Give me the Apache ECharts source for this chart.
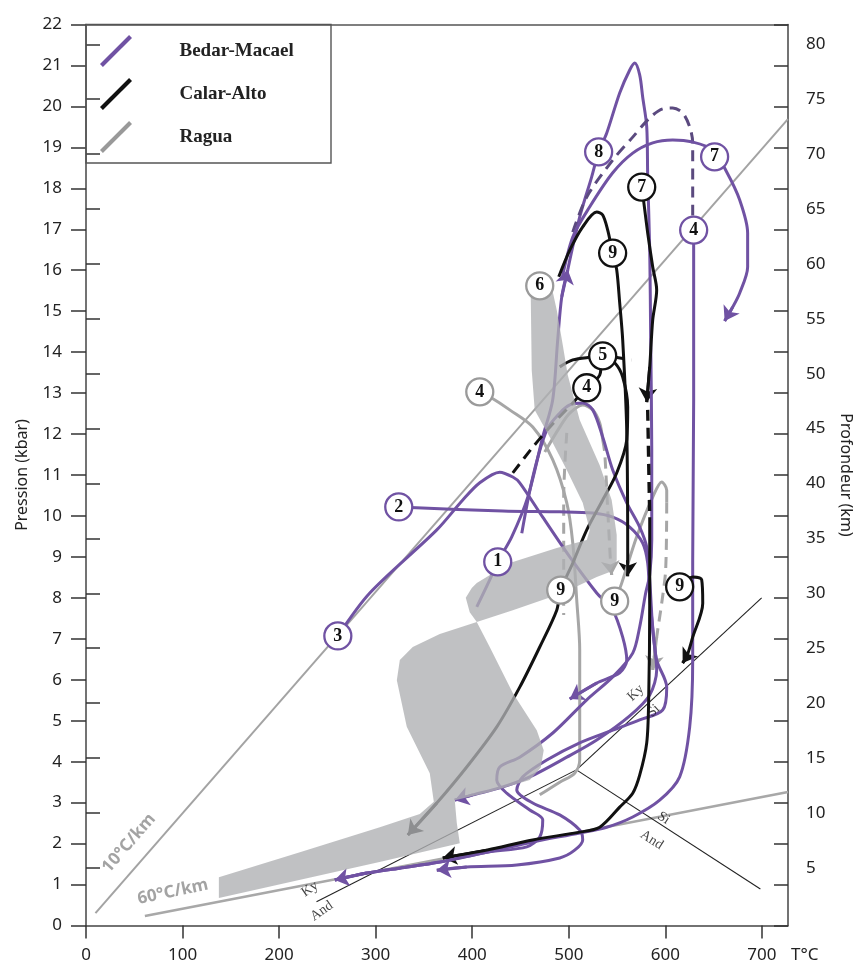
<!DOCTYPE html>
<html><head><meta charset="utf-8">
<script src="https://cdn.jsdelivr.net/npm/echarts@6/dist/echarts.min.js"></script>
<style>html,body{margin:0;padding:0;background:#fff}#c{width:856px;height:967px}</style>
</head><body><div id="c"></div>
<script>
// ---- ticks ----
const xTicks = [0,100,200,300,400,500,600,700];
const kmTicks = [5,10,15,20,25,30,35,40,45,50,55,60,65,70,75,80];
const seriesNames = ['Bedar-Macael','Calar-Alto','Ragua'];

// ---- reference lines [T(°C), P(kbar)] ----
const geo10 = [[9.8,0.30],[726.9,19.69]];
const geo60 = [[61.0,0.23],[727,3.26]];
const kyAnd = [[238.7,0.58],[507.9,3.80]];
const kySil = [[507.9,3.80],[699.7,8.00]];
const andSil = [[507.9,3.80],[698.4,0.89]];

// ---- Bedar-Macael paths ----
const B1 = [[404.7,7.78],[418.1,8.44],[426.4,8.88],[440.9,9.49],[457.5,10.46],[473.0,11.93],[483.3,12.83],[488.5,14.30],[492.7,15.35],[498.9,16.01]];
const B8 = [[498.9,16.01],[511.3,17.30],[523.7,18.28],[530.9,18.89],[539.3,19.35],[552.7,20.33],[563.1,20.89],[568.3,21.06],[573.4,20.77],[576.5,20.23],[580.7,19.50],[581.7,18.28],[583.8,16.49],[584.8,14.30],[585.9,11.61],[585.9,9.41],[583.8,8.56],[579.6,8.12],[573.4,7.29],[566.2,6.65],[545.5,6.07],[518.6,5.51],[483.4,4.70],[449.2,4.11],[428.5,3.87],[425.4,3.55],[435.7,3.23],[459.6,2.82],[473.0,2.58],[469.9,2.16],[456.5,1.92],[415.0,1.79],[366.4,1.55],[325.0,1.40],[290.8,1.28],[257.7,1.11]];
const B4dash = [[504.1,16.93],[518.6,17.79],[545.5,18.69],[566.2,19.25],[583.8,19.72],[597.2,19.94],[607.6,19.96],[617.9,19.84],[625.2,19.50],[628.3,19.11],[628.3,17.30]];
const B4 = [[629.3,16.98],[629.3,12.83],[628.3,8.92],[628.3,6.48],[625.2,4.85],[614.8,3.63],[594.1,3.06],[566.2,2.65],[539.2,2.40],[511.3,2.26],[462.6,2.04],[415.0,1.79],[366.4,1.55],[325.0,1.40],[290.8,1.28],[257.7,1.11]];
const B7 = [[492.7,15.76],[504.1,16.81],[521.7,17.55],[545.5,18.38],[566.2,18.86],[586.9,19.11],[607.6,19.18],[628.3,19.13],[649.0,18.94],[663.5,18.40],[676.9,17.72],[685.2,16.91],[685.2,16.08],[676.9,15.44],[669.7,15.10],[661.4,14.76]];
const B3 = [[260.8,7.07],[293.9,8.12],[363.3,9.66],[390.2,10.39],[407.8,10.81],[428.5,11.07],[442.0,10.95],[449.2,10.81],[473.0,9.97],[501.0,9.00],[528.9,8.12],[545.5,7.70],[555.8,7.04],[560.0,6.48],[552.7,6.17],[528.9,5.92],[501.0,5.53]];
const B2 = [[323.9,10.22],[431.6,10.12],[490.6,10.10],[524.8,10.07],[545.5,9.97],[563.1,9.73],[576.5,9.34],[581.7,8.85],[583.8,8.02],[586.9,7.29],[591.0,6.48],[601.4,5.82],[597.2,5.26],[573.4,5.02],[545.5,4.77],[511.3,4.46],[477.2,4.04],[452.3,3.63],[446.1,3.31],[462.7,2.99],[490.6,2.70],[511.3,2.33],[514.4,2.09],[506.1,1.84],[490.6,1.65],[446.1,1.48],[394.3,1.43],[363.3,1.35]];
const B5 = [[451.3,9.58],[462.7,10.95],[477.2,12.10],[490.6,12.51],[501.0,12.71],[514.4,12.76],[524.8,12.59],[535.1,11.93],[545.5,11.12],[560.0,10.32],[573.4,9.73],[580.7,9.24],[583.8,8.44],[586.9,7.22],[591.0,6.24],[583.8,5.63],[563.1,5.12],[528.9,4.53],[497.9,4.11],[459.6,3.63],[428.5,3.36],[400.6,3.19],[381.9,3.06]];

// ---- Calar-Alto paths ----
const C7a = [[575.5,18.03],[577.6,17.67],[581.7,16.91],[586.9,16.08],[591.0,15.52],[586.9,14.79],[583.8,13.64],[580.7,12.78]];
const C7dash = [[581.7,12.59],[583.8,9.97]];
const C7c = [[583.8,9.97],[583.8,7.95],[582.7,5.51],[580.7,4.46],[573.4,3.67],[566.2,3.23],[552.7,2.89],[532.0,2.40],[511.3,2.28],[462.6,2.09],[415.0,1.84],[369.5,1.65]];
const C9a = [[489.6,15.84],[501.0,16.49],[514.4,17.06],[528.9,17.42],[535.1,17.35],[540.3,16.98],[545.4,16.42],[549.6,16.01],[552.7,15.20],[555.8,14.30],[560.0,12.10],[561.0,8.92],[561.0,8.53]];
const C5 = [[490.6,13.64],[504.1,13.81],[523.7,13.88],[535.1,13.91],[547.5,13.74],[555.8,13.39],[561.0,12.66],[560.0,11.86],[549.6,11.05],[535.1,10.39],[518.6,9.66],[504.1,8.85],[491.6,8.19],[487.5,7.70],[469.9,6.80],[449.2,5.82],[425.4,4.85],[394.3,3.87],[363.3,2.99],[333.3,2.21]];
const C4dash = [[442.0,11.05],[462.7,11.68],[482.3,12.22],[504.1,12.76],[518.6,13.13],[532.0,13.44],[535.1,13.91],[565.1,13.81]];
const C9b = [[614.8,8.27],[628.3,8.51],[637.6,8.44],[638.7,7.87],[628.3,7.04],[622.1,6.56],[617.9,6.41]];

// ---- Ragua paths ----
const R4 = [[407.8,13.03],[418.1,12.91],[438.8,12.59],[462.7,12.17],[483.4,11.37],[497.9,10.32],[504.1,9.34],[508.2,7.95],[511.3,6.73],[511.3,4.04],[506.1,3.72],[490.6,3.50],[469.9,3.19]];
const Rpk = [[475.1,11.56],[490.6,12.17],[501.0,12.51],[514.4,12.71],[524.8,12.59],[532.0,12.27],[535.1,11.86]];
const RpkDash = [[535.1,11.86],[537.2,11.54],[540.3,10.15],[543.4,8.80],[544.4,8.56]];
const RleftDash = [[497.9,12.03],[494.7,10.46],[494.7,8.68],[494.7,7.58]];
const Rright = [[547.5,7.92],[554.8,8.36],[570.3,9.49],[586.9,10.46],[596.2,10.83],[601.4,10.63],[601.4,10.32]];
const RrightDash = [[601.4,10.32],[600.3,8.68],[596.2,7.87],[591.0,7.04],[586.9,6.24]];
// Ragua path 6: broad band (outline)
const R6band = [[459.6,15.47],[483.4,15.47],[487.5,15.03],[493.7,14.18],[498.9,13.44],[511.3,12.34],[532.0,11.24],[544.4,10.39],[549.6,9.54],[549.6,8.92],[542.4,8.63],[528.9,8.51],[493.7,8.12],[442.0,7.70],[404.7,7.41],[418.1,6.80],[442.0,5.68],[466.8,4.77],[474.0,4.28],[470.9,3.85],[459.6,3.55],[418.1,3.26],[381.9,3.06],[384.0,2.50],[387.1,2.01],[307.4,1.57],[137.6,0.67],[137.6,1.18],[221.5,1.79],[304.3,2.40],[345.7,2.72],[360.2,3.02],[356.0,3.72],[332.2,4.85],[321.9,5.99],[325.0,6.48],[338.4,6.80],[366.4,7.12],[404.7,7.41],[397.4,7.65],[393.3,8.00],[399.5,8.24],[404.7,8.36],[438.8,8.85],[487.5,9.22],[518.6,9.41],[521.7,9.66],[514.4,10.32],[497.9,11.12],[480.2,11.93],[464.7,12.59],[461.6,13.56],[460.6,15.35]];

// ---- numbered stages [T, P, number] ----
const bedarStages = [[530.9,18.89,'8'],[651.0,18.77,'7'],[629.3,16.98,'4'],[323.9,10.22,'2'],[426.4,8.88,'1'],[260.8,7.07,'3']];
const calarStages = [[575.5,18.03,'7'],[545.4,16.42,'9'],[535.1,13.91,'5'],[518.6,13.13,'4'],[614.8,8.27,'9']];
const raguaStages = [[469.9,15.62,'6'],[407.8,13.03,'4'],[491.6,8.19,'9'],[547.5,7.92,'9']];

// ---- annotations [T, P, text] ----
const geoLabels = [[44.4,2.01,'10°C/km'],[90.0,0.82,'60°C/km']];
const phaseLabels = [[231.8,0.89,'Ky'],[244.2,0.35,'And'],[569.3,5.68,'Ky'],[587.9,5.24,'Si'],[598.2,2.62,'Si'],[585.8,2.09,'And']];

// ---- styles ----
const PURPLE = '#7052a3', PURPLE_D = '#5b4a7f', BLACK = '#111111', GRAY = '#a6a6a6';
const geoLabelAngles = [49, 12];
const phaseLabelAngles = [35, 35, 43, 43, -33, -33];

function path(name, data, color, dashed, width) {
  return {type:'line', name:name, data:data, smooth:0.3, showSymbol:false, symbol:'none', z:2, silent:true,
    lineStyle:{color:color, width:width||3, type:dashed?[11,7]:'solid', cap:'butt', join:'round'}, itemStyle:{color:color}};
}
function arrow(data, color) {
  const n = data.length;
  return {type:'lines', coordinateSystem:'cartesian2d', polyline:false, z:2, silent:true,
    symbol:['none','arrow'], symbolSize:[0,14], lineStyle:{color:color, width:3, opacity:1},
    data:[{coords:[data[n-2], data[n-1]]}]};
}
function stages(data, border) {
  return {type:'scatter', data:data, z:6, silent:true, symbol:'circle', symbolSize:27,
    itemStyle:{color:'#ffffff', borderColor:border, borderWidth:2.3, opacity:1},
    label:{show:true, position:'inside', formatter:p=>p.data[2], fontFamily:'Liberation Serif', fontWeight:'bold', fontSize:18, color:'#111'}};
}
function refLine(data, color, width) {
  return {type:'line', data:data, showSymbol:false, symbol:'none', z:1, silent:true, lineStyle:{color:color, width:width}};
}

const series = [
  refLine(geo10, '#a3a3a3', 2),
  refLine(geo60, '#a8a8a8', 2.6),
  refLine(kyAnd, '#222', 1.1),
  refLine(kySil, '#222', 1.1),
  refLine(andSil, '#222', 1.1),
  // Ragua
  path(seriesNames[2], R4, GRAY),
  path(seriesNames[2], Rpk, GRAY),
  path(seriesNames[2], RpkDash, GRAY, true),
  path(seriesNames[2], RleftDash, GRAY, true),
  path(seriesNames[2], Rright, GRAY),
  path(seriesNames[2], RrightDash, GRAY, true),
  arrow(RpkDash, GRAY), arrow(RrightDash, GRAY),
  // Bedar
  path(seriesNames[0], B1, PURPLE),
  path(seriesNames[0], B8, PURPLE),
  path(seriesNames[0], B4dash, PURPLE_D, true),
  path(seriesNames[0], B4, PURPLE),
  path(seriesNames[0], B7, PURPLE),
  path(seriesNames[0], B3, PURPLE),
  path(seriesNames[0], B2, PURPLE),
  path(seriesNames[0], B5, PURPLE),
  arrow(B1, PURPLE), arrow(B8, PURPLE), arrow(B7, PURPLE), arrow(B3, PURPLE), arrow(B2, PURPLE), arrow(B5, PURPLE),
  // Calar
  path(seriesNames[1], C7a, BLACK),
  path(seriesNames[1], C7dash, BLACK, true, 3.4),
  path(seriesNames[1], C7c, BLACK),
  path(seriesNames[1], C9a, BLACK),
  path(seriesNames[1], C5, BLACK),
  path(seriesNames[1], C4dash, BLACK, true),
  path(seriesNames[1], C9b, BLACK),
  arrow(C7a, BLACK), arrow(C7c, BLACK), arrow(C9a, BLACK), arrow(C5, BLACK), arrow(C9b, BLACK),
  // Ragua band (on top, translucent)
  {type:'custom', coordinateSystem:'cartesian2d', data:R6band, encode:{x:0,y:1}, z:3, silent:true, clip:false,
    renderItem:function(params, api){
      if (params.dataIndex !== 0) return null;
      return {type:'polygon', shape:{points:R6band.map(p=>api.coord(p))}, style:{fill:'rgba(175,176,179,0.79)'}};
    }},
  stages(bedarStages, PURPLE),
  stages(calarStages, BLACK),
  stages(raguaStages, '#9a9a9a'),
  {type:'scatter', data:geoLabels.map((d,i)=>({value:d, label:{rotate:geoLabelAngles[i]}})), symbolSize:0, z:6, silent:true,
    label:{show:true, position:'inside', formatter:p=>p.data.value[2], fontFamily:'Noto Sans', fontWeight:'bold', fontSize:17, color:'#8c8c8c'}},
  {type:'scatter', data:phaseLabels.map((d,i)=>({value:d, label:{rotate:phaseLabelAngles[i]}})), symbolSize:0, z:6, silent:true,
    label:{show:true, position:'inside', formatter:p=>p.data.value[2], fontFamily:'Liberation Serif', fontSize:14, color:'#111'}}
];

const axisFont = {fontFamily:'Noto Sans', fontSize:17, color:'#222'};
const option = {
  animation:false,
  backgroundColor:'#ffffff',
  grid:{left:86, right:68, top:24.5, bottom:41.5, containLabel:false, outerBoundsMode:'none'},
  legend:{
    orient:'vertical', left:86, top:24.5, padding:[10.5,10,10,14], itemWidth:33, itemHeight:32, itemGap:11,
    selectedMode:false,
    textStyle:{fontFamily:'Liberation Serif', fontWeight:'bold', fontSize:19, color:'#222', padding:[0,0,8,42]},
    data:[
      {name:seriesNames[0], icon:'path://M0,30L30,0L33,3L3,33Z', itemStyle:{color:PURPLE}},
      {name:seriesNames[1], icon:'path://M0,30L30,0L33,3L3,33Z', itemStyle:{color:BLACK}},
      {name:seriesNames[2], icon:'path://M0,30L30,0L33,3L3,33Z', itemStyle:{color:'#999'}}
    ]
  },
  graphic:[{type:'rect', shape:{x:86, y:24.5, width:245, height:138.5}, style:{fill:'none', stroke:'#555', lineWidth:1.4}, z:10, silent:true}],
  xAxis:[
    {type:'value', position:'bottom', min:0, max:727, splitLine:{show:false},
      axisLine:{show:true, onZero:false, lineStyle:{color:'#444', width:1.5}},
      axisTick:{show:true, customValues:xTicks, length:13, lineStyle:{color:'#333', width:1.5}},
      axisLabel:Object.assign({customValues:xTicks, margin:21}, axisFont),
      name:'T°C', nameLocation:'end', nameGap:3,
      nameTextStyle:Object.assign({verticalAlign:'top', align:'left', padding:[21,0,0,0]}, axisFont)},
    {type:'value', position:'top', min:0, max:727, splitLine:{show:false},
      axisLine:{show:true, onZero:false, lineStyle:{color:'#555', width:1.5}}, axisTick:{show:false}, axisLabel:{show:false}}
  ],
  yAxis:[
    {type:'value', position:'left', min:0, max:22, interval:1, splitLine:{show:false},
      axisLine:{show:true, onZero:false, lineStyle:{color:'#444', width:1.5}},
      axisTick:{show:true, length:15, lineStyle:{color:'#333', width:1.5}},
      axisLabel:Object.assign({margin:24}, axisFont),
      name:'Pression (kbar)', nameLocation:'middle', nameGap:56,
      nameTextStyle:{fontFamily:'Noto Sans', fontSize:16, color:'#222'}},
    {type:'value', position:'right', min:0, max:22, interval:1, splitLine:{show:false},
      axisLine:{show:true, onZero:false, lineStyle:{color:'#444', width:1.5}},
      axisTick:{show:true, inside:true, length:14, lineStyle:{color:'#333', width:1.5}},
      axisLabel:{show:false}},
    {type:'value', position:'right', min:-0.26, max:81.8, splitLine:{show:false},
      axisLine:{show:false},
      axisTick:{show:true, customValues:kmTicks, length:14, lineStyle:{color:'#333', width:1.5}},
      axisLabel:Object.assign({customValues:kmTicks, margin:18}, axisFont),
      name:'Profondeur (km)', nameLocation:'middle', nameGap:50, nameRotate:-90,
      nameTextStyle:{fontFamily:'Noto Sans', fontSize:16, color:'#222'}}
  ],
  series:series
};
const chart = echarts.init(document.getElementById('c'), null, {renderer:'canvas'});
chart.setOption(option);
</script></body></html>
